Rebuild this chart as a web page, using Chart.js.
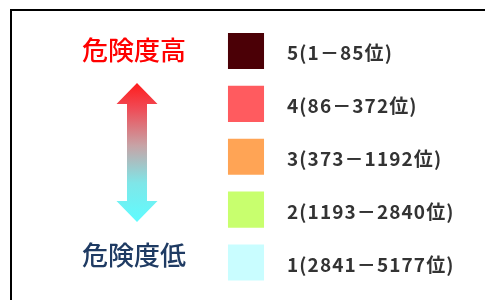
<!doctype html>
<html lang="ja">
<head>
<meta charset="utf-8">
<title>危険度</title>
<script src="https://cdn.jsdelivr.net/npm/chart.js@4"></script>
<style>
  html, body { margin: 0; padding: 0; background: #fff; }
  #wrap { width: 485px; height: 300px; position: relative; }
</style>
</head>
<body>
<div id="wrap"><canvas id="c"></canvas></div>
<script>
// 危険度ランク（上から 5 → 1）
var levels = [5, 4, 3, 2, 1];
var rankLabels = ["5(1－85位)", "4(86－372位)", "3(373－1192位)", "2(1193－2840位)", "1(2841－5177位)"];
var levelColors = ["#4b0006", "#ff5b5f", "#ffa455", "#c8ff6e", "#c9fdff"];
var column = [0.5, 0.5, 0.5, 0.5, 0.5];
var titleHigh = "危険度高";
var titleLow = "危険度低";

var points = levels.map(function (v, i) { return { x: column[i], y: v }; });

// 枠線・矢印・見出し
var decoPlugin = {
  id: "deco",
  beforeDraw: function (chart) {
    var ctx = chart.ctx;
    ctx.save();
    ctx.fillStyle = "#000";
    ctx.fillRect(10, 9, 475, 2);
    ctx.fillRect(10, 9, 2, 291);

    // 両方向矢印
    var cx = 137, top = 83, bot = 222, head = 21, hw = 20.5, sw = 10;
    var g = ctx.createLinearGradient(0, top, 0, bot);
    g.addColorStop(0, "#ff1c1c");
    g.addColorStop(0.18, "#f04a55");
    g.addColorStop(0.45, "#c7a3a6");
    g.addColorStop(0.72, "#7fe6e8");
    g.addColorStop(1, "#5ffcff");
    ctx.fillStyle = g;
    ctx.beginPath();
    ctx.moveTo(cx, top);
    ctx.lineTo(cx + hw, top + head);
    ctx.lineTo(cx + sw, top + head);
    ctx.lineTo(cx + sw, bot - head);
    ctx.lineTo(cx + hw, bot - head);
    ctx.lineTo(cx, bot);
    ctx.lineTo(cx - hw, bot - head);
    ctx.lineTo(cx - sw, bot - head);
    ctx.lineTo(cx - sw, top + head);
    ctx.lineTo(cx - hw, top + head);
    ctx.closePath();
    ctx.fill();

    ctx.font = "500 26px 'Noto Sans CJK JP'";
    ctx.textAlign = "center";
    ctx.textBaseline = "middle";
    ctx.fillStyle = "#ff0000";
    ctx.fillText(titleHigh, 134, 50);
    ctx.fillStyle = "#1f3b63";
    ctx.fillText(titleLow, 134, 255);
    ctx.restore();
  },
  afterDatasetsDraw: function (chart) {
    var ctx = chart.ctx;
    var meta = chart.getDatasetMeta(0);
    ctx.save();
    ctx.font = "bold 19px 'Noto Sans CJK JP'";
    ctx.letterSpacing = "1.1px";
    ctx.fillStyle = "#333333";
    ctx.textAlign = "left";
    ctx.textBaseline = "alphabetic";
    meta.data.forEach(function (pt, i) {
      ctx.fillText(rankLabels[i], pt.x + 41, pt.y + 9);
    });
    ctx.restore();
  }
};

new Chart("c", {
  type: "scatter",
  data: {
    datasets: [{
      data: points,
      pointStyle: "rect",
      pointRadius: 25.5,
      pointBorderWidth: 0,
      pointBackgroundColor: levelColors,
      pointBorderColor: levelColors
    }]
  },
  options: {
    responsive: true,
    maintainAspectRatio: false,
    animation: false,
    events: [],
    layout: { autoPadding: false, padding: { left: 12, right: 5, top: 24.5, bottom: 11 } },
    plugins: { legend: { display: false }, tooltip: { enabled: false } },
    scales: {
      x: { display: false, min: 0, max: 1 },
      y: { display: false, min: 0.5, max: 5.5 }
    }
  },
  plugins: [decoPlugin]
});
</script>
</body>
</html>
